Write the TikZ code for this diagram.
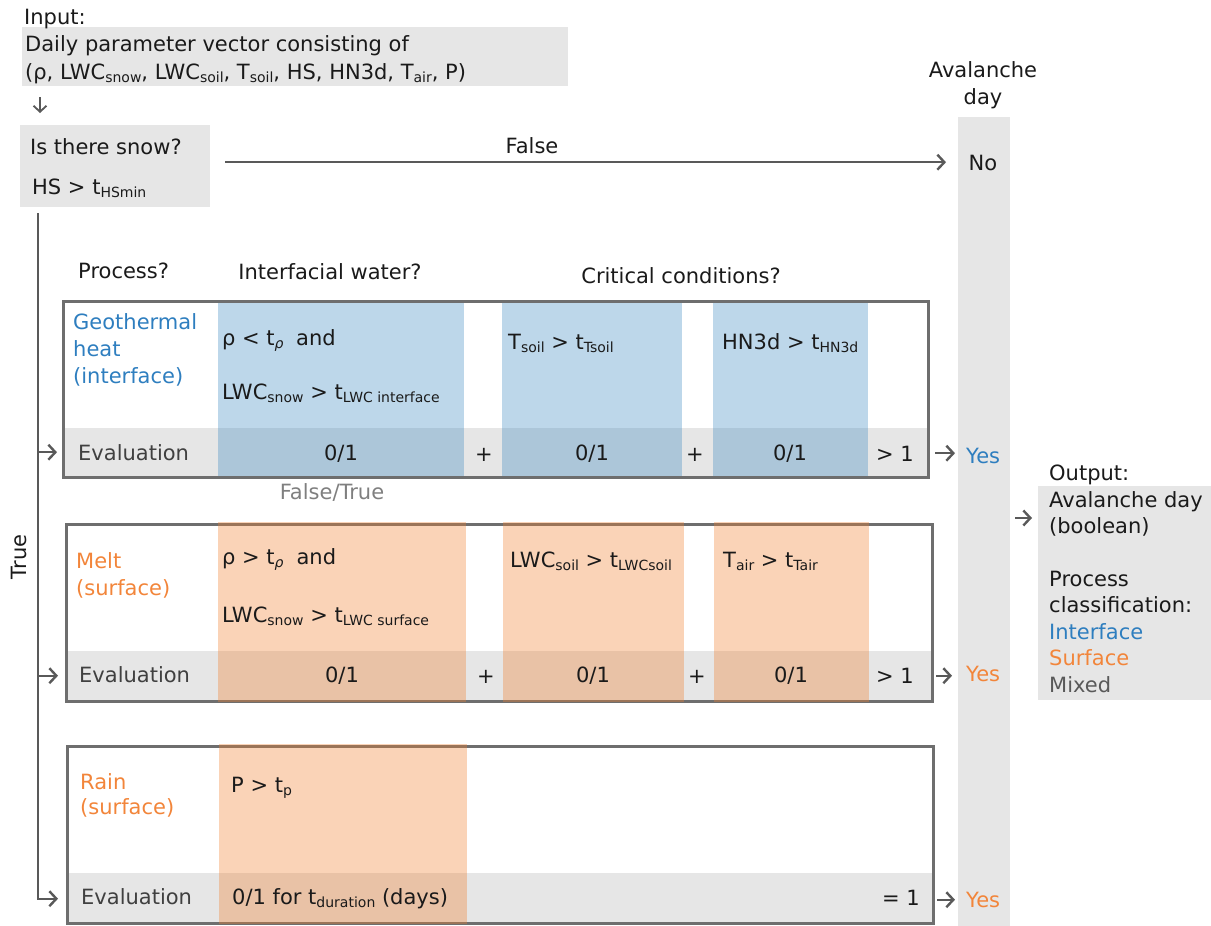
\documentclass[tikz,border=0pt]{standalone}
\usepackage{fontspec}
\setmainfont{DejaVu Sans}
\usetikzlibrary{arrows.meta,calc}
\definecolor{boxgray}{HTML}{E6E6E6}
\definecolor{linegray}{HTML}{6E6E6E}
\definecolor{arrgray}{HTML}{595959}
\definecolor{maintxt}{HTML}{1A1A1A}
\definecolor{bluetxt}{HTML}{2E7EBF}
\definecolor{orangetxt}{HTML}{F2853A}
\definecolor{bluefill}{HTML}{428DC3}
\definecolor{orangefill}{HTML}{F08030}
\definecolor{evaltxt}{HTML}{404040}
\definecolor{mutedtxt}{HTML}{7F7F7F}
\definecolor{mixedtxt}{HTML}{595959}
\newcommand\sbx[1]{\raisebox{-3pt}{\fontsize{14pt}{14pt}\selectfont #1}}
\begin{document}
\begin{tikzpicture}[x=1pt,y=-1pt,
  font=\fontsize{21pt}{27pt}\selectfont,
  txt/.style={anchor=base west, inner sep=0, text=maintxt},
  ctxt/.style={anchor=base, inner sep=0, text=maintxt},
  gbox/.style={fill=boxgray, draw=none, anchor=north west, inner sep=0},
  frame/.style={draw=linegray, line width=2.6pt, anchor=north west, inner sep=0},
  bcol/.style={fill=bluefill, fill opacity=0.35, draw=none, anchor=north west, inner sep=0},
  ocol/.style={fill=orangefill, fill opacity=0.35, draw=none, anchor=north west, inner sep=0},
  arr/.style={draw=arrgray, line width=2.4pt, -{Straight Barb[length=7pt,width=15pt]}},
  thinarr/.style={draw=arrgray, line width=1.8pt, -{Straight Barb[length=6pt,width=13pt]}}]
\useasboundingbox (0,0) rectangle (1211,926);

% ---------- backgrounds ----------
\node[gbox, minimum width=546pt, minimum height=59pt] (input) at (22,27) {};
\node[gbox, minimum width=190pt, minimum height=82pt] (snow) at (20,125) {};
\node[gbox, minimum width=52pt, minimum height=809pt] (avcol) at (958,117) {};
\node[gbox, minimum width=173pt, minimum height=214pt] (outbox) at (1038,486) {};

% geothermal panel
\node[gbox, minimum width=865pt, minimum height=48pt] (geoeval) at (62,428) {};
\node[bcol, minimum width=246pt, minimum height=176pt] (geoc1) at (218,300) {};
\node[bcol, minimum width=180pt, minimum height=176pt] (geoc2) at (502,300) {};
\node[bcol, minimum width=155pt, minimum height=176pt] (geoc3) at (713,300) {};
\node[frame, minimum width=865pt, minimum height=176pt] (geo) at (62,300) {};

% melt panel
\node[gbox, minimum width=866pt, minimum height=49pt] (melteval) at (65,651) {};
\node[frame, minimum width=866pt, minimum height=177pt] (melt) at (65,523) {};
\node[ocol, minimum width=248pt, minimum height=180pt] (meltc1) at (218,521.5) {};
\node[ocol, minimum width=181pt, minimum height=180pt] (meltc2) at (503,521.5) {};
\node[ocol, minimum width=155pt, minimum height=180pt] (meltc3) at (714,521.5) {};

% rain panel
\node[gbox, minimum width=866pt, minimum height=49pt] (raineval) at (66,873) {};
\node[frame, minimum width=866pt, minimum height=177pt] (rain) at (66,745) {};
\node[ocol, minimum width=248pt, minimum height=180pt] (rainc1) at (219,743.5) {};

% ---------- texts ----------
\node[txt] (inlbl) at (24,24) {Input:};
\node[txt] (in1) at (25,51) {Daily parameter vector consisting of};
\node[txt] (in2) at (25,79) {(ρ, LWC\sbx{snow}, LWC\sbx{soil}, T\sbx{soil}, HS, HN3d, T\sbx{air}, P)};

\node[txt] (snow1) at (30,154) {Is there snow?};
\node[txt] (snow2) at (32,194) {HS > t\sbx{HSmin}};
\node[ctxt] (falselbl) at (532,153) {False};

\node[ctxt] (av1) at (983,77) {Avalanche};
\node[ctxt] (av2) at (983,104) {day};
\node[ctxt] (no) at (983,170) {No};

\node[txt] (proc) at (78,278) {Process?};
\node[ctxt] (iw) at (330,279) {Interfacial water?};
\node[ctxt] (cc) at (681,283) {Critical conditions?};

% geothermal texts
\node[txt, text=bluetxt] (g1) at (73,329) {Geothermal};
\node[txt, text=bluetxt] (g2) at (73,356) {heat};
\node[txt, text=bluetxt] (g3) at (73,383) {(interface)};
\node[txt] (gc1a) at (222,345) {ρ < t\sbx{\textit{ρ}}\hspace{0.6em}and};
\node[txt] (gc1b) at (222,399) {LWC\sbx{snow} > t\sbx{LWC interface}};
\node[txt] (gc2) at (508,349) {T\sbx{soil} > t\sbx{Tsoil}};
\node[txt] (gc3) at (722,349) {HN3d > t\sbx{HN3d}};
\node[txt, text=evaltxt] (gev) at (78,460) {Evaluation};
\node[ctxt] (ge1) at (341,460) {0/1};
\node[ctxt] (gp1) at (484,461) {+};
\node[ctxt] (ge2) at (592,460) {0/1};
\node[ctxt] (gp2) at (695,461) {+};
\node[ctxt] (ge3) at (790,460) {0/1};
\node[ctxt] (ggt) at (895,461) {> 1};
\node[ctxt, text=mutedtxt] (ft) at (332,499) {False/True};
\node[txt, text=bluetxt] (yes1) at (966,463) {Yes};

% melt texts
\node[txt, text=orangetxt] (m1) at (76,568) {Melt};
\node[txt, text=orangetxt] (m2) at (76,595) {(surface)};
\node[txt] (mc1a) at (222,564) {ρ > t\sbx{\textit{ρ}}\hspace{0.3em} and};
\node[txt] (mc1b) at (222,622) {LWC\sbx{snow} > t\sbx{LWC surface}};
\node[txt] (mc2) at (510,567) {LWC\sbx{soil} > t\sbx{LWCsoil}};
\node[txt] (mc3) at (723,567) {T\sbx{air} > t\sbx{Tair}};
\node[txt, text=evaltxt] (mev) at (79,682) {Evaluation};
\node[ctxt] (me1) at (342,682) {0/1};
\node[ctxt] (mp1) at (486,683) {+};
\node[ctxt] (me2) at (593,682) {0/1};
\node[ctxt] (mp2) at (697,683) {+};
\node[ctxt] (me3) at (791,682) {0/1};
\node[ctxt] (mgt) at (895,683) {> 1};
\node[txt, text=orangetxt] (yes2) at (966,681) {Yes};

% rain texts
\node[txt, text=orangetxt] (r1) at (80,789) {Rain};
\node[txt, text=orangetxt] (r2) at (80,814) {(surface)};
\node[txt] (rc1) at (231,792) {P > t\sbx{p}};
\node[txt, text=evaltxt] (rev) at (81,904) {Evaluation};
\node[txt] (re1) at (232,904) {0/1 for t\sbx{duration} (days)};
\node[ctxt] (req) at (901,905) {= 1};
\node[txt, text=orangetxt] (yes3) at (966,907) {Yes};

\node[inner sep=0, rotate=90, text=maintxt] (truelbl) at (19,557) {True};

% output texts
\node[txt] (outlbl) at (1049,480) {Output:};
\node[txt] (o1) at (1049,507) {Avalanche day};
\node[txt] (o2) at (1049,533) {(boolean)};
\node[txt] (o3) at (1049,586) {Process};
\node[txt] (o4) at (1049,612) {classification:};
\node[txt, text=bluetxt] (o5) at (1049,639) {Interface};
\node[txt, text=orangetxt] (o6) at (1049,665) {Surface};
\node[txt, text=mixedtxt] (o7) at (1049,692) {Mixed};

% ---------- connectors ----------
\draw[thinarr] ($(input.south west)+(18,11)$) -- ($(snow.north west)+(20,-12)$);
\draw[arr] ($(snow.east)+(15,-4)$) -- ($(avcol.west |- snow.east)+(-12,-4)$);

\coordinate (trunk) at ($(snow.south west)+(18,6)$);
\draw[arr] (trunk) |- ($(raineval.west)+(-8,1)$);
\draw[arr] (trunk |- geoeval.west) -- ($(geoeval.west)+(-5,0)$);
\draw[arr] (trunk |- melteval.west) -- ($(melteval.west)+(-7,0)$);

\draw[arr] ($(geoeval.east)+(8,1)$) -- ($(geoeval.east -| avcol.west)+(-3,1)$);
\draw[arr] ($(melteval.east)+(5,0)$) -- ($(melteval.east -| avcol.west)+(-6,0)$);
\draw[arr] ($(raineval.east)+(5,2)$) -- ($(raineval.east -| avcol.west)+(-3,2)$);

\coordinate (outin) at ($(outbox.north west)+(-6,32)$);
\draw[arr] ($(avcol.east |- outin)+(5,0)$) -- (outin);
\end{tikzpicture}
\end{document}
